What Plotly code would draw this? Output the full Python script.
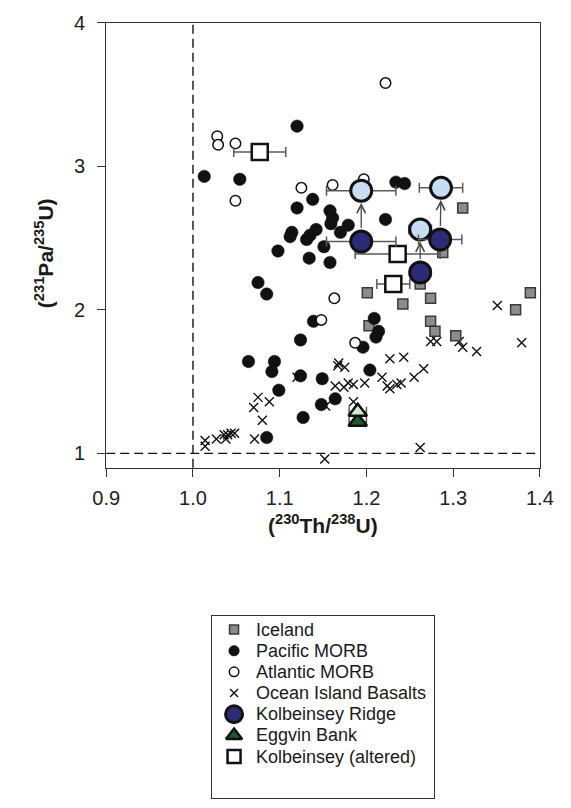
import plotly.graph_objects as go

W, H = 571, 808

# ---------------- data ----------------
iceland_x = [1.201, 1.242, 1.203, 1.311, 1.288, 1.262, 1.274, 1.389, 1.372, 1.274, 1.279, 1.303]
iceland_y = [2.12, 2.04, 1.89, 2.71, 2.40, 2.18, 2.08, 2.12, 2.00, 1.92, 1.85, 1.82]

pacific_x = [1.013, 1.054, 1.120, 1.138, 1.120, 1.234, 1.244, 1.158, 1.161, 1.159, 1.170,
             1.179, 1.222, 1.114, 1.112, 1.142, 1.135, 1.131, 1.151, 1.098, 1.134, 1.158,
             1.075, 1.085, 1.139, 1.209, 1.214, 1.211, 1.196, 1.124, 1.064, 1.094, 1.091,
             1.124, 1.149, 1.204, 1.099, 1.164, 1.148, 1.127, 1.085]
pacific_y = [2.93, 2.91, 3.28, 2.77, 2.71, 2.89, 2.88, 2.69, 2.64, 2.60, 2.54,
             2.59, 2.63, 2.54, 2.51, 2.56, 2.52, 2.49, 2.44, 2.41, 2.36, 2.33,
             2.19, 2.11, 1.92, 1.94, 1.85, 1.81, 1.74, 1.79, 1.64, 1.64, 1.57,
             1.54, 1.52, 1.58, 1.44, 1.38, 1.34, 1.25, 1.11]

atlantic_x = [1.028, 1.029, 1.049, 1.049, 1.125, 1.161, 1.197, 1.222, 1.163, 1.148, 1.187]
atlantic_y = [3.21, 3.15, 3.16, 2.76, 2.85, 2.87, 2.91, 3.58, 2.08, 1.93, 1.77]

oib_x = [1.351, 1.379, 1.274, 1.281, 1.307, 1.311, 1.327, 1.227, 1.243, 1.168, 1.167,
         1.175, 1.164, 1.174, 1.179, 1.185, 1.198, 1.218, 1.224, 1.227, 1.235, 1.240,
         1.120, 1.075, 1.088, 1.070, 1.080, 1.071, 1.153, 1.185, 1.152, 1.014, 1.262,
         1.014, 1.027, 1.036, 1.040, 1.044, 1.048, 1.038, 1.255, 1.266]
oib_y = [2.03, 1.77, 1.78, 1.78, 1.78, 1.74, 1.71, 1.66, 1.67, 1.63, 1.61,
         1.60, 1.47, 1.46, 1.49, 1.48, 1.49, 1.53, 1.47, 1.45, 1.48, 1.49,
         1.53, 1.39, 1.36, 1.32, 1.23, 1.10, 1.33, 1.36, 0.96, 1.05, 1.04,
         1.09, 1.10, 1.13, 1.13, 1.14, 1.14, 1.10, 1.53, 1.59]

kr_x = [1.194, 1.285, 1.262]
kr_y = [2.476, 2.49, 2.26]
kr_err = [0.040, 0.025, 0.012]

kr_corr_x = [1.194, 1.286, 1.262]
kr_corr_y = [2.83, 2.85, 2.56]
kr_corr_err = [0.040, 0.025, 0.013]

eggvin_x = [1.190]
eggvin_y = [1.22]
eggvin_err = [0.010]
eggvin_corr_x = [1.190]
eggvin_corr_y = [1.29]
eggvin_corr_err = [0.010]

alt_x = [1.077, 1.236, 1.231]
alt_y = [3.10, 2.39, 2.18]
alt_err = [0.030, 0.049, 0.019]

x_ticks = [0.9, 1.0, 1.1, 1.2, 1.3, 1.4]
y_ticks = [1, 2, 3, 4]
equil_x = 1.0
equil_y = 1.0

legend_labels = ["Iceland", "Pacific MORB", "Atlantic MORB", "Ocean Island Basalts",
                 "Kolbeinsey Ridge", "Eggvin Bank", "Kolbeinsey (altered)"]

# ---------------- styles ----------------
FONT = "Arial, Liberation Sans, sans-serif"
INK = "#1a1a1a"
ERR = dict(type="data", color="#5a5a5a", thickness=1.5, width=5)

styles = {
    "Iceland": dict(symbol="square", size=10, color="#8c8c8c", line=dict(color="#3a3a3a", width=1.5)),
    "Pacific MORB": dict(symbol="circle", size=12.5, color="#111111", line=dict(color="#111111", width=0.5)),
    "Atlantic MORB": dict(symbol="circle", size=10.5, color="white", line=dict(color="#111111", width=1.5)),
    "Ocean Island Basalts": dict(symbol="x-thin", size=9, color="#111111", line=dict(color="#111111", width=1.4)),
    "Kolbeinsey Ridge": dict(symbol="circle", size=21, color="#2b2b78", line=dict(color="#111111", width=3)),
    "Eggvin Bank": dict(symbol="triangle-up", size=16, color="#1f5a2c", line=dict(color="#111111", width=2.5)),
    "Kolbeinsey (altered)": dict(symbol="square", size=16, color="white", line=dict(color="#111111", width=2.5)),
}
legend_sizes = {"Iceland": 9, "Pacific MORB": 10.5, "Atlantic MORB": 9.5, "Ocean Island Basalts": 8,
                "Kolbeinsey Ridge": 17, "Eggvin Bank": 14, "Kolbeinsey (altered)": 13}
corr_circle = dict(symbol="circle", size=21, color="#c6ddf2", line=dict(color="#111111", width=3))
corr_tri = dict(symbol="triangle-up", size=16, color="#d3e8cf", line=dict(color="#111111", width=2.5))

fig = go.Figure()

def add(x, y, style, err=None):
    fig.add_trace(go.Scatter(
        x=x, y=y, mode="markers", marker=style, showlegend=False,
        error_x=dict(ERR, array=err) if err is not None else None,
        xaxis="x", yaxis="y", hoverinfo="x+y"))

add(oib_x, oib_y, styles["Ocean Island Basalts"])
add(iceland_x, iceland_y, styles["Iceland"])
add(pacific_x, pacific_y, styles["Pacific MORB"])
add(atlantic_x, atlantic_y, styles["Atlantic MORB"])
add(alt_x, alt_y, styles["Kolbeinsey (altered)"], alt_err)
add(eggvin_x, eggvin_y, styles["Eggvin Bank"], eggvin_err)
add(eggvin_corr_x, eggvin_corr_y, corr_tri, eggvin_corr_err)
add(kr_corr_x, kr_corr_y, corr_circle, kr_corr_err)
add(kr_x, kr_y, styles["Kolbeinsey Ridge"], kr_err)

# arrows from measured Kolbeinsey values to corrected values
annotations = []
for xa, ya in zip(kr_x, kr_y):
    j = min(range(len(kr_corr_x)), key=lambda k: abs(kr_corr_x[k] - xa))
    annotations.append(dict(
        x=kr_corr_x[j], y=kr_corr_y[j], ax=xa, ay=ya, xref="x", yref="y", axref="x", ayref="y",
        showarrow=True, arrowhead=5, arrowsize=1.3, arrowwidth=1.3, arrowcolor="#4a4a4a",
        standoff=12, startstandoff=12, text=""))

# ---------------- custom legend (own small axes) ----------------
for lab in legend_labels:
    st = dict(styles[lab])
    st["size"] = legend_sizes[lab]
    fig.add_trace(go.Scatter(x=[0.1], y=[lab], mode="markers", marker=st,
                             showlegend=False, xaxis="x2", yaxis="y2", hoverinfo="skip"))
for i, lab in enumerate(legend_labels):
    annotations.append(dict(x=0.19, y=i, xref="x2", yref="y2", text=lab, showarrow=False,
                            xanchor="left", yanchor="middle",
                            font=dict(family=FONT, size=18, color=INK)))

# axis titles
annotations.append(dict(x=325 / W, y=1 - 520 / H, xref="paper", yref="paper",
                        text="<b>(<sup>230</sup>Th/<sup>238</sup>U)</b>", showarrow=False,
                        xanchor="center", yanchor="middle", font=dict(family=FONT, size=21, color=INK)))
annotations.append(dict(x=31 / W, y=1 - 245 / H, xref="paper", yref="paper", textangle=-90,
                        text="<b>(<sup>231</sup>Pa/<sup>235</sup>U)</b>", showarrow=False,
                        xanchor="center", yanchor="middle", font=dict(family=FONT, size=21, color=INK)))

shapes = [
    dict(type="line", xref="x", yref="y domain", x0=equil_x, x1=equil_x, y0=0, y1=1,
         line=dict(color="#111111", width=1.4, dash="9px,5px")),
    dict(type="line", xref="x domain", yref="y", x0=0, x1=1, y0=equil_y, y1=equil_y,
         line=dict(color="#111111", width=1.4, dash="9px,5px")),
]

axis_common = dict(showgrid=False, zeroline=False, showline=True, linecolor="#333333", linewidth=1.3,
                   mirror=True, ticks="outside", ticklen=8, tickwidth=1.2, tickcolor="#333333",
                   tickfont=dict(family=FONT, size=20, color="#222222"))

fig.update_layout(
    width=W, height=H, autosize=False,
    margin=dict(l=0, r=0, t=0, b=0, pad=0),
    paper_bgcolor="white", plot_bgcolor="white",
    showlegend=False,
    xaxis=dict(axis_common, domain=[97 / W, 553 / W], range=[0.9, 1.4],
               tickvals=x_ticks, ticktext=[f"{v:.1f}" for v in x_ticks], anchor="y",
               ticklabelstandoff=4),
    yaxis=dict(axis_common, domain=[1 - 463 / H, 1 - 12 / H], range=[0.9, 4.0],
               tickvals=y_ticks, ticktext=[str(v) for v in y_ticks], anchor="x",
               ticklabelstandoff=8),
    xaxis2=dict(domain=[208 / W, 442 / W], range=[0, 1], anchor="y2", showgrid=False,
                zeroline=False, showticklabels=False, ticks="", showline=True, mirror=True,
                linecolor="#333333", linewidth=1.2, fixedrange=True),
    yaxis2=dict(domain=[1 - 798 / H, 1 - 613 / H], type="category", categoryorder="array",
                categoryarray=legend_labels, range=[7.96, -0.654], anchor="x2", showgrid=False,
                zeroline=False, showticklabels=False, ticks="", showline=True, mirror=True,
                linecolor="#333333", linewidth=1.2, fixedrange=True),
    shapes=shapes,
    annotations=annotations,
)

fig.write_html("out.html")
